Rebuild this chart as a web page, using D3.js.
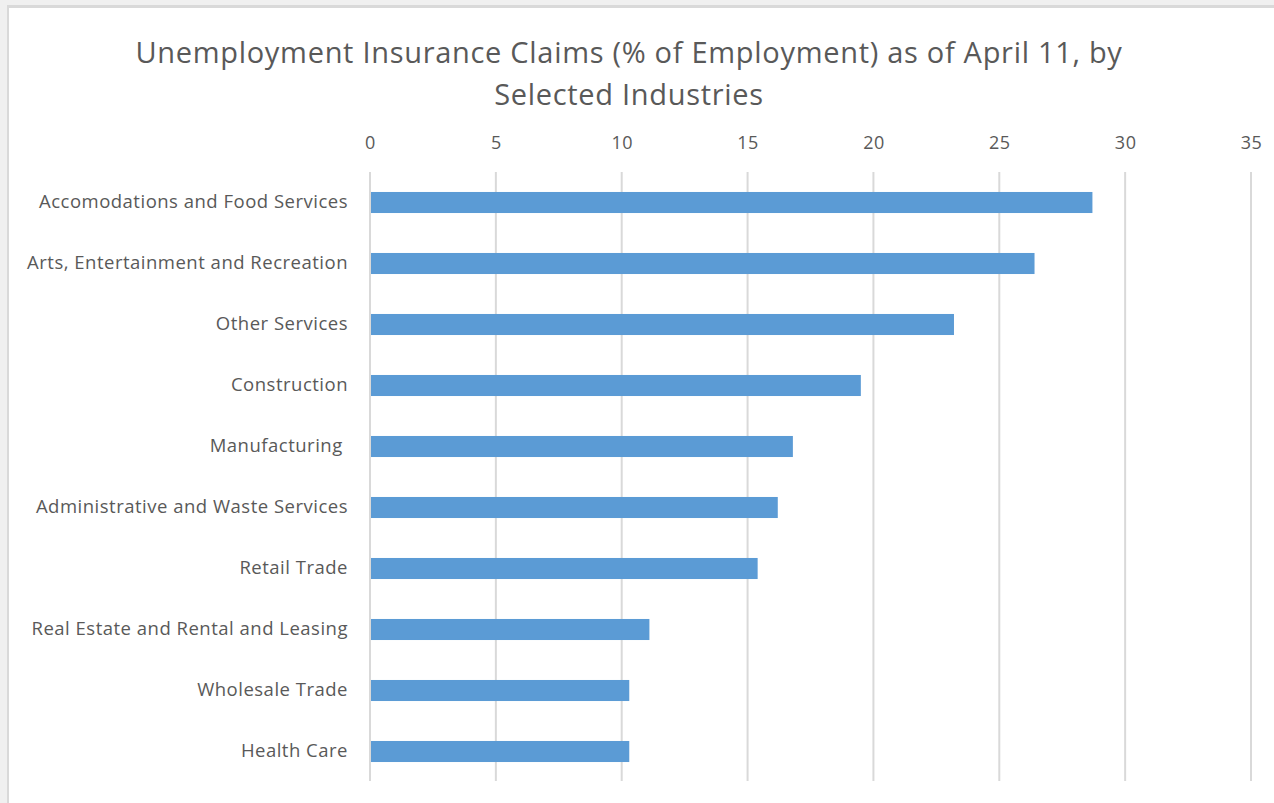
<!DOCTYPE html>
<html>
<head>
<meta charset="utf-8">
<script src="https://cdn.jsdelivr.net/npm/d3@7"></script>
<style>
  html, body { margin: 0; padding: 0; background: #f0f0f0; }
  svg { display: block; }
  .cat text { white-space: pre; }
</style>
</head>
<body>
<svg id="chart" width="1274" height="803"></svg>
<script>
// Industries, top to bottom
const categories = [
  "Accomodations and Food Services",
  "Arts, Entertainment and Recreation",
  "Other Services",
  "Construction",
  "Manufacturing ",
  "Administrative and Waste Services",
  "Retail Trade",
  "Real Estate and Rental and Leasing",
  "Wholesale Trade",
  "Health Care"
];
// Claims as % of employment
const claims = [28.7, 26.4, 23.2, 19.5, 16.8, 16.2, 15.4, 11.1, 10.3, 10.3];
const tickValues = [0, 5, 10, 15, 20, 25, 30, 35];
const titleLines = [
  "Unemployment Insurance Claims (% of Employment) as of April 11, by",
  "Selected Industries"
];

const W = 1274, H = 803;
const font = "'Open Sans', 'Noto Sans', sans-serif";
const textColor = "#595959";

const svg = d3.select("#chart");

// Chart canvas with a thin border on the top and left
svg.append("rect").attr("x", 0).attr("y", 0).attr("width", W).attr("height", H).attr("fill", "#f0f0f0");
svg.append("rect").attr("x", 7).attr("y", 5).attr("width", W - 7).attr("height", H - 5).attr("fill", "#d9d9d9");
svg.append("rect").attr("x", 9).attr("y", 8).attr("width", W - 9).attr("height", H - 8).attr("fill", "#ffffff");

const x = d3.scaleLinear().domain([0, 35]).range([370, 1251]);
const y = d3.scaleBand().domain(categories).range([172, 782]).paddingInner(0.655).paddingOuter(0.3275);

// Title
svg.append("g").selectAll("text").data(titleLines).join("text")
  .attr("x", 629).attr("y", (d, i) => 63 + i * 42)
  .attr("text-anchor", "middle")
  .attr("font-family", font).attr("font-size", 29)
  .attr("letter-spacing", 0.7)
  .attr("fill", textColor)
  .text(d => d);

// Vertical gridlines
svg.append("g").selectAll("line").data(tickValues).join("line")
  .attr("x1", d => x(d)).attr("x2", d => x(d))
  .attr("y1", 172).attr("y2", 781)
  .attr("stroke", "#d9d9d9").attr("stroke-width", 2);

// Top value axis (labels only)
const xAxis = svg.append("g").attr("transform", "translate(0,149)")
  .call(d3.axisTop(x).tickValues(tickValues).tickSize(0).tickPadding(0));
xAxis.select(".domain").remove();
xAxis.selectAll("text")
  .attr("font-family", font).attr("font-size", 18)
  .attr("letter-spacing", 0.5)
  .attr("fill", textColor);

// Category axis on the left
const yAxis = svg.append("g").attr("class", "cat").attr("transform", "translate(348,0)")
  .call(d3.axisLeft(y).tickSize(0).tickPadding(0));
yAxis.select(".domain").remove();
yAxis.selectAll("text")
  .attr("font-family", font).attr("font-size", 18.5)
  .attr("letter-spacing", 0.5)
  .attr("fill", textColor)
  .attr("dy", "0.32em");

// Bars
svg.append("g").selectAll("rect").data(categories).join("rect")
  .attr("x", x(0) + 1)
  .attr("y", d => y(d))
  .attr("width", (d, i) => x(claims[i]) - x(0) - 1)
  .attr("height", y.bandwidth())
  .attr("fill", "#5b9bd5");
</script>
</body>
</html>
